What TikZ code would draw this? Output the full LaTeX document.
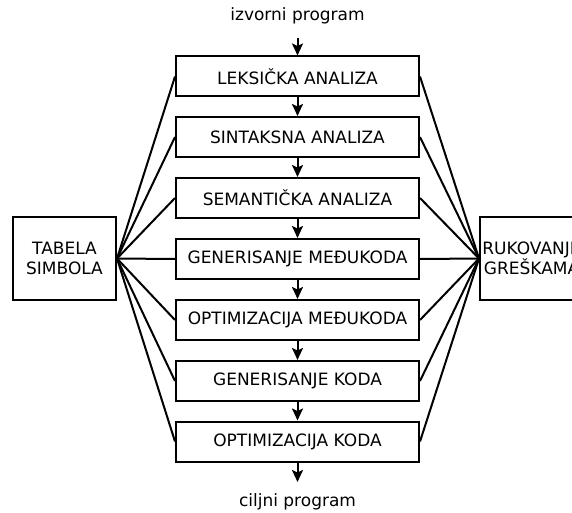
\documentclass[tikz,border=0pt]{standalone}
\usepackage{fontspec}
\setmainfont{DejaVu Sans}
\usetikzlibrary{arrows.meta}
\begin{document}
\begin{tikzpicture}[x=1pt,y=-1pt,
  every node/.style={font=\fontsize{17}{20}\selectfont},
  phase/.style={draw,line width=2pt,minimum width=243pt,minimum height=40pt,inner sep=0pt},
  side/.style={draw,line width=2pt,minimum width=103pt,minimum height=83pt,inner sep=0pt,align=center},
  flow/.style={line width=2pt,-{Stealth[length=12pt,width=11pt,inset=2.5pt]}},
  link/.style={line width=2pt}]
\useasboundingbox (0,0) rectangle (572,513);
% compiler phases
\node[phase] (p1) at (297.5,76.5) {LEKSIČKA ANALIZA};
\node[phase] (p2) at (297.5,137) {SINTAKSNA ANALIZA};
\node[phase] (p3) at (297.5,198) {SEMANTIČKA ANALIZA};
\node[phase] (p4) at (297.5,259) {GENERISANJE MEĐUKODA};
\node[phase] (p5) at (297.5,320) {OPTIMIZACIJA MEĐUKODA};
\node[phase] (p6) at (297.5,381) {GENERISANJE KODA};
\node[phase] (p7) at (297.5,441.5) {OPTIMIZACIJA KODA};
% side components
\node[side] (tab) at (64.5,258.5) {TABELA\\SIMBOLA};
\node[side] (err) at (531.5,258.5) {RUKOVANJE\\GREŠKAMA};
% input and output
\node[anchor=base] (src) at (297.5,20.5) {izvorni program};
\node[anchor=base] (dst) at (297.5,506) {ciljni program};
\coordinate (srcend) at (297.5,38);
\coordinate (dstend) at (297.5,482);
% main flow
\draw[flow] (srcend) -- (p1);
\foreach \a/\b in {p1/p2,p2/p3,p3/p4,p4/p5,p5/p6,p6/p7}
  \draw[flow] (\a) -- (\b);
\draw[flow] (p7) -- (dstend);
% connections to symbol table and error handling
\foreach \p in {p1,p2,p3,p4,p5,p6,p7}{
  \draw[link] (tab.east) -- (\p.west);
  \draw[link] (err.west) -- (\p.east);
}
\end{tikzpicture}
\end{document}
